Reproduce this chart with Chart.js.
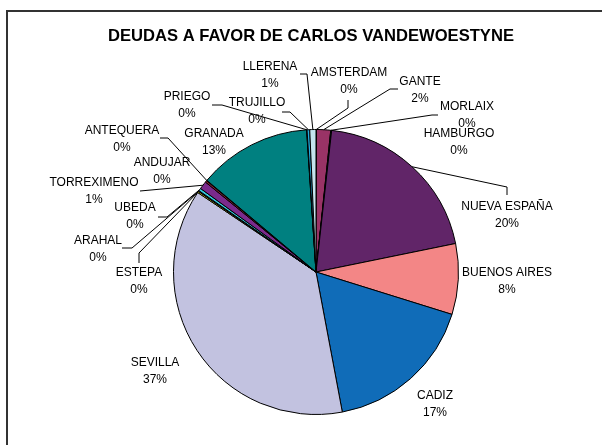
<!DOCTYPE html>
<html>
<head>
<meta charset="utf-8">
<script src="https://cdn.jsdelivr.net/npm/chart.js@4/dist/chart.umd.min.js"></script>
<style>
  html, body { margin: 0; padding: 0; background: #fff; overflow: hidden; }
  #wrap { position: relative; width: 602px; height: 445px; overflow: hidden; }
  #frame { position: absolute; left: 6px; top: 10px; width: 700px; height: 600px; border: 2px solid #333; }
  canvas { position: absolute; left: 0; top: 0; }
</style>
</head>
<body>
<div id="wrap">
  <div id="frame"></div>
  <canvas id="c" width="602" height="445"></canvas>
</div>
<script>
// datos (porcentaje aproximado de cada deuda)
const cities = ["AMSTERDAM", "GANTE", "MORLAIX", "HAMBURGO", "NUEVA ESPAÑA", "BUENOS AIRES",
  "CADIZ", "SEVILLA", "ESTEPA", "ARAHAL", "UBEDA", "TORREXIMENO", "ANDUJAR", "ANTEQUERA",
  "GRANADA", "PRIEGO", "TRUJILLO", "LLERENA"];
const debts = [0.05, 1.6, 0.05, 0.05, 20.0, 8.0,
  17.2, 37.3, 0.15, 0.1, 0.3, 0.9, 0.2, 0.05,
  12.8, 0.05, 0.3, 0.7];
const title = "DEUDAS A FAVOR DE CARLOS VANDEWOESTYNE";

const colors = ["#9999FF", "#993366", "#FFFFCC", "#CCFFFF", "#612568", "#F38686",
  "#106CB8", "#C2C2E0", "#FFFF00", "#000080", "#33CCDD", "#7B2A8C", "#8B1C2C", "#008080",
  "#008080", "#0000FF", "#22AADD", "#C4E4EE"];

// posicion de cada etiqueta (centro de la linea del nombre)
const labelPos = [[349, 73], [420, 82], [467, 107], [459, 134], [507, 207], [507, 273],
  [435, 396], [155, 363], [139, 273], [98, 241], [135, 208], [94, 183], [162, 163], [122, 131],
  [214, 134], [187, 97], [257, 103], [270, 67]];
// codos de las lineas guia (desde la etiqueta hacia el sector)
const leaders = {
  0: [[348, 100], [348, 108]],
  1: [[398, 89], [390, 89]],
  2: [[438, 115], [432, 115]],
  4: [[507, 195], [507, 187]],
  8: [[139, 263], [139, 253]],
  9: [[122, 248], [132, 248]],
  10: [[158, 217], [167, 217]],
  11: [[140, 191]],
  13: [[160, 138], [168, 138]],
  15: [[212, 105], [222, 105]],
  16: [[282, 112], [290, 112]],
  17: [[300, 74], [307, 74]]
};

const total = debts.reduce((a, b) => a + b, 0);
const FONT = "'Liberation Sans', Arial, sans-serif";

const labelsPlugin = {
  id: "pieLabels",
  afterDraw(chart) {
    const ctx = chart.ctx;
    const arcs = chart.getDatasetMeta(0).data;
    ctx.save();
    // titulo
    ctx.fillStyle = "#000";
    ctx.font = "bold 16.6px " + FONT;
    ctx.textAlign = "center";
    ctx.textBaseline = "middle";
    ctx.fillText(title, 311, 36);
    // lineas guia
    ctx.strokeStyle = "#000";
    ctx.lineWidth = 1;
    Object.keys(leaders).forEach(k => {
      const arc = arcs[k];
      const p = arc.getProps(["x", "y", "startAngle", "endAngle", "outerRadius"], true);
      const mid = (p.startAngle + p.endAngle) / 2;
      const ex = p.x + Math.cos(mid) * p.outerRadius;
      const ey = p.y + Math.sin(mid) * p.outerRadius;
      ctx.beginPath();
      leaders[k].forEach((pt, i) => i ? ctx.lineTo(pt[0], pt[1]) : ctx.moveTo(pt[0], pt[1]));
      ctx.lineTo(ex, ey);
      ctx.stroke();
    });
    // etiquetas
    ctx.font = "12px " + FONT;
    ctx.fillStyle = "#000";
    cities.forEach((name, i) => {
      const [x, y] = labelPos[i];
      const pct = Math.round(debts[i] / total * 100) + "%";
      ctx.fillText(name, x, y);
      ctx.fillText(pct, x, y + 17);
    });
    ctx.restore();
  }
};

new Chart(document.getElementById("c"), {
  type: "pie",
  data: {
    labels: cities,
    datasets: [{
      data: debts,
      backgroundColor: colors,
      borderColor: "#000",
      borderWidth: 1
    }]
  },
  options: {
    responsive: false,
    animation: false,
    events: [],
    layout: { padding: { left: 60, right: 30, top: 129, bottom: 30 } },
    plugins: {
      legend: { display: false },
      title: { display: false },
      tooltip: { enabled: false }
    }
  },
  plugins: [labelsPlugin]
});
</script>
</body>
</html>
